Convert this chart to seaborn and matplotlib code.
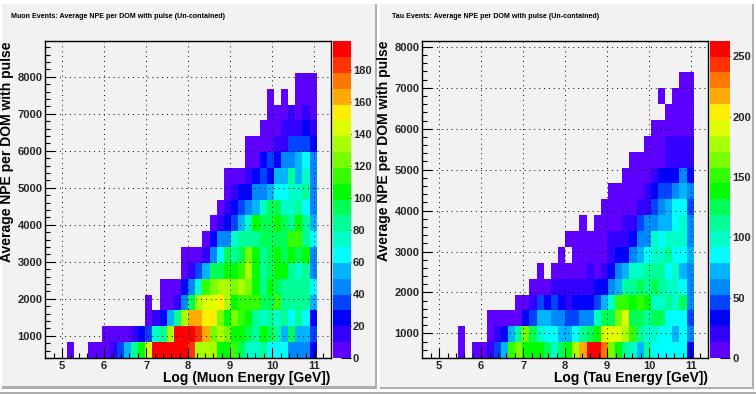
import matplotlib
matplotlib.use("Agg")
import matplotlib.pyplot as plt
from matplotlib.colors import ListedColormap
from matplotlib.patches import Rectangle
from matplotlib.ticker import FixedLocator
import numpy as np
import pandas as pd
import seaborn as sns

W, H = 756, 394

# x axis bins (log energy), same for both plots
x_min, x_bin = 4.6, 0.17
n_x, n_y = 40, 20
x_ticks = [5, 6, 7, 8, 9, 10, 11]

# colour band read off the z scale for each cell, rows from bottom to top
# each row is (first column, bands), None is an empty cell
muon_rows = [
    (3, [0, None, None, 0, 0, 0, 1, 3, 5, 8, 10, 14, 19, 19, 19, 19, 19, 18, 13, 13, 13, 10, 10, 11, 9, 7, 7, 8, 6, 6, 6, 4, 4, 4, 2]),
    (8, [0, 0, 0, 0, 1, 2, 3, 7, 8, 13, 19, 19, 19, 18, 16, 12, 13, 12, 10, 10, 9, 8, 10, 9, 8, 5, 9, 5, 5, 3]),
    (14, [0, 1, 2, 5, 8, 13, 16, 16, 15, 15, 12, 10, 12, 11, 10, 8, 7, 8, 7, 8, 6, 8, 6, 2]),
    (14, [0, None, 0, 0, 1, 4, 9, 13, 14, 14, 15, 13, 10, 11, 11, 11, 9, 9, 11, 8, 8, 8, 8, 5]),
    (16, [0, 0, 0, 2, 4, 7, 11, 12, 13, 13, 12, 13, 12, 10, 8, 10, 9, 8, 8, 8, 8, 6]),
    (19, [0, 1, 3, 5, 9, 9, 10, 10, 11, 13, 10, 8, 9, 10, 10, 8, 7, 8, 4]),
    (19, [0, 0, 0, 1, 4, 6, 9, 8, 9, 12, 10, 8, 9, 10, 9, 10, 9, 10, 4]),
    (22, [0, 2, 4, 4, 7, 8, 8, 8, 9, 9, 9, 9, 11, 11, 8, 6]),
    (23, [0, 1, 2, 3, 5, 7, 10, 9, 9, 10, 9, 8, 10, 8, 5]),
    (24, [0, 1, 2, 3, 4, 5, 7, 9, 9, 7, 7, 8, 6, 4]),
    (25, [0, 1, 2, 2, 4, 4, 5, 6, 6, 7, 7, 8, 4]),
    (25, [0, 0, 0, 1, 2, 3, 2, 5, 5, 8, 5, 7, 4]),
    (28, [0, 0, 2, 3, 2, 4, 4, 5, 6, 4]),
    (28, [0, 0, 0, 0, 1, 1, 3, 3, 3, 2]),
    (30, [0, 0, 0, 1, 1, 1, 2, 1]),
    (31, [0, 0, 0, 1, 0, 1, 0]),
    (31, [0, None, 0, None, 0, 0, 0]),
    (35, [0, 0, 0]),
]
tau_rows = [
    (5, [0, None, 0, 0, 1, 3, 5, 11, 12, 10, 10, 10, 9, 7, 9, 10, 13, 16, 19, 19, 17, 12, 10, 8, 7, 5, 8, 6, 6, 6, 6, 6, 2]),
    (5, [0, None, None, None, 0, 1, 2, 5, 8, 12, 9, 7, 6, 6, 5, 5, 6, 8, 9, 10, 14, 14, 14, 13, 11, 8, 7, 7, 6, 6, 5, 6, 4]),
    (9, [0, 0, 0, 0, 0, 2, 3, 5, 5, 4, 4, 3, 3, 4, 4, 7, 9, 9, 12, 14, 9, 9, 8, 9, 9, 6, 6, 6, 3]),
    (13, [0, 0, 1, 3, 2, 3, 2, 1, 2, 2, 2, 3, 5, 7, 11, 11, 10, 11, 10, 7, 7, 8, 7, 9, 4]),
    (15, [0, 0, 0, 1, 1, 1, 1, 1, 1, 2, 2, 4, 5, 8, 8, 9, 8, 9, 8, 7, 7, 6, 4]),
    (16, [0, None, 0, 0, 0, 0, 0, 1, 0, 1, 2, 4, 5, 7, 7, 8, 8, 8, 6, 7, 5, 4]),
    (19, [0, None, 0, 0, 0, 0, 0, 1, 2, 2, 4, 5, 6, 7, 7, 8, 6, 6, 5]),
    (20, [0, 0, 0, 0, 0, 0, 1, 1, 1, 2, 4, 4, 7, 6, 7, 7, 7, 4]),
    (22, [0, None, 0, 0, 0, 0, 1, 1, 3, 4, 4, 5, 5, 6, 7, 4]),
    (25, [0, 0, 0, 0, 0, 1, 1, 3, 4, 5, 6, 6, 3]),
    (26, [0, 0, 0, 0, 0, 1, 2, 3, 3, 4, 5, 4]),
    (28, [0, 0, 0, 0, 1, 2, 2, 2, 4, 2]),
    (29, [0, 0, 0, 0, 0, 1, 1, 1, 1]),
    (31, [0, 0, 0, 1, 1, 1, 1]),
    (32, [0, 0, 0, 0, 0, 0]),
    (34, [0, 0, 0, 0]),
    (33, [0, None, 0, 0, 0]),
    (36, [0, 0]),
]

# ROOT rainbow palette, one colour per band
palette = [
    "#5e00ff", "#3300ff", "#0000ff", "#0044ff", "#0088ff", "#00b4ff", "#00ffff",
    "#00ffc8", "#00ff96", "#00ff55", "#00ff00", "#33ff00", "#77ff00", "#aaff00",
    "#ddff00", "#ffee00", "#ffaa00", "#ff7700", "#ff3300", "#ff0000",
]

sns.set_theme(style="white")
plt.rcParams["font.family"] = ["Liberation Sans", "DejaVu Sans"]
plt.rcParams["font.weight"] = "bold"


def fig_box(left, top, right, bottom):
    return [left / W, 1 - bottom / H, (right - left) / W, (bottom - top) / H]


def to_frame(rows, step):
    cells = np.full((n_y, n_x), np.nan)
    for r, (start, bands) in enumerate(rows):
        for i, b in enumerate(bands):
            if b is not None:
                cells[r, start + i] = (b + 0.5) * step
    return pd.DataFrame(cells)


def add_rect(fig, left, top, right, bottom, colour, z):
    fig.add_artist(Rectangle((left / W, 1 - bottom / H), (right - left) / W, (bottom - top) / H,
                             transform=fig.transFigure, fc=colour, ec="none", zorder=z))


def draw_panel(fig, rows, box, cbar_box, y_range, y_ticks, z_step, z_ticks, title, title_x, xlabel, ylabel_x):
    y_min, y_bin = y_range
    ax = fig.add_axes(fig_box(*box))
    cax = fig.add_axes(fig_box(*cbar_box))
    data = to_frame(rows, z_step)
    sns.heatmap(data, ax=ax, cbar_ax=cax, cmap=ListedColormap(palette), vmin=0, vmax=20 * z_step,
                xticklabels=False, yticklabels=False, linewidths=0)
    ax.set_xlim(0, n_x)
    ax.set_ylim(0, n_y)
    ax.set_facecolor("none")
    ax.set_axisbelow(False)

    to_x = lambda v: (v - x_min) / x_bin
    to_y = lambda v: (v - y_min) / y_bin
    ax.set_xticks([to_x(v) for v in x_ticks])
    ax.set_xticklabels(x_ticks, fontsize=8, fontweight="bold")
    ax.set_yticks([to_y(v) for v in y_ticks])
    ax.set_yticklabels(y_ticks, fontsize=8, fontweight="bold", rotation=0)
    minor_x = np.arange(4.8, 11.4, 0.2)
    minor_y = np.arange(400, y_min + n_y * y_bin, 200)
    ax.xaxis.set_minor_locator(FixedLocator([to_x(v) for v in minor_x]))
    ax.yaxis.set_minor_locator(FixedLocator([to_y(v) for v in minor_y]))
    ax.tick_params(which="major", direction="in", length=7, width=0.8, color="black", pad=2,
                   left=True, bottom=True, top=False, right=False)
    ax.tick_params(which="minor", direction="in", length=3.5, width=0.8, color="black",
                   left=True, bottom=True, top=False, right=False)
    ax.grid(True, which="major", color="black", linestyle=(0, (1, 4)), linewidth=0.7)
    for s in ax.spines.values():
        s.set_visible(True)
        s.set_color("black")
        s.set_linewidth(1.0)

    cax.set_yticks(z_ticks)
    cax.set_yticklabels(z_ticks, fontsize=8, fontweight="bold")
    cax.tick_params(axis="y", right=True, length=7.5, width=0.8, color="black", pad=1.5, direction="in")
    for s in cax.spines.values():
        s.set_visible(False)

    fig.text(title_x / W, 1 - 16.5 / H, title, fontsize=5.1, fontweight="bold", color="black",
             ha="left", va="center")
    fig.text((box[2] - 0.5) / W, 1 - 382 / H, xlabel, fontsize=10, fontweight="bold", color="black",
             ha="right", va="baseline")
    fig.text(ylabel_x / W, 1 - box[1] / H, "Average NPE per DOM with pulse", fontsize=10,
             fontweight="bold", color="black", rotation=90, ha="center", va="top")


fig = plt.figure(figsize=(W / 100, H / 100), dpi=100, facecolor="white")
add_rect(fig, 0, 392, W, H, "#aeaeae", -6)
add_rect(fig, 2, 4, 375, 386, "#f2f2f2", -5)
add_rect(fig, 2, 386, 377, 389, "#aeaeae", -4)
add_rect(fig, 375, 4, 377, 389, "#aeaeae", -4)
add_rect(fig, 380, 4, 752, 387, "#f2f2f2", -5)
add_rect(fig, 380, 387, 754, 389, "#aeaeae", -4)
add_rect(fig, 752, 4, 754, 389, "#aeaeae", -4)

draw_panel(fig, muon_rows, (45.3, 41.3, 331, 358), (333, 41.3, 350.7, 358),
           (400, 428), [1000, 2000, 3000, 4000, 5000, 6000, 7000, 8000],
           9.9, [0, 20, 40, 60, 80, 100, 120, 140, 160, 180],
           "Muon Events: Average NPE per DOM with pulse (Un-contained)", 11,
           "Log (Muon Energy [GeV])", 7.5)
draw_panel(fig, tau_rows, (422.3, 40.7, 708, 358), (709.7, 40.7, 730.3, 358),
           (400, 387.5), [1000, 2000, 3000, 4000, 5000, 6000, 7000, 8000],
           13.15, [0, 50, 100, 150, 200, 250],
           "Tau Events: Average NPE per DOM with pulse (Un-contained)", 392,
           "Log (Tau Energy [GeV])", 384)

fig.savefig("out.png", dpi=100)
